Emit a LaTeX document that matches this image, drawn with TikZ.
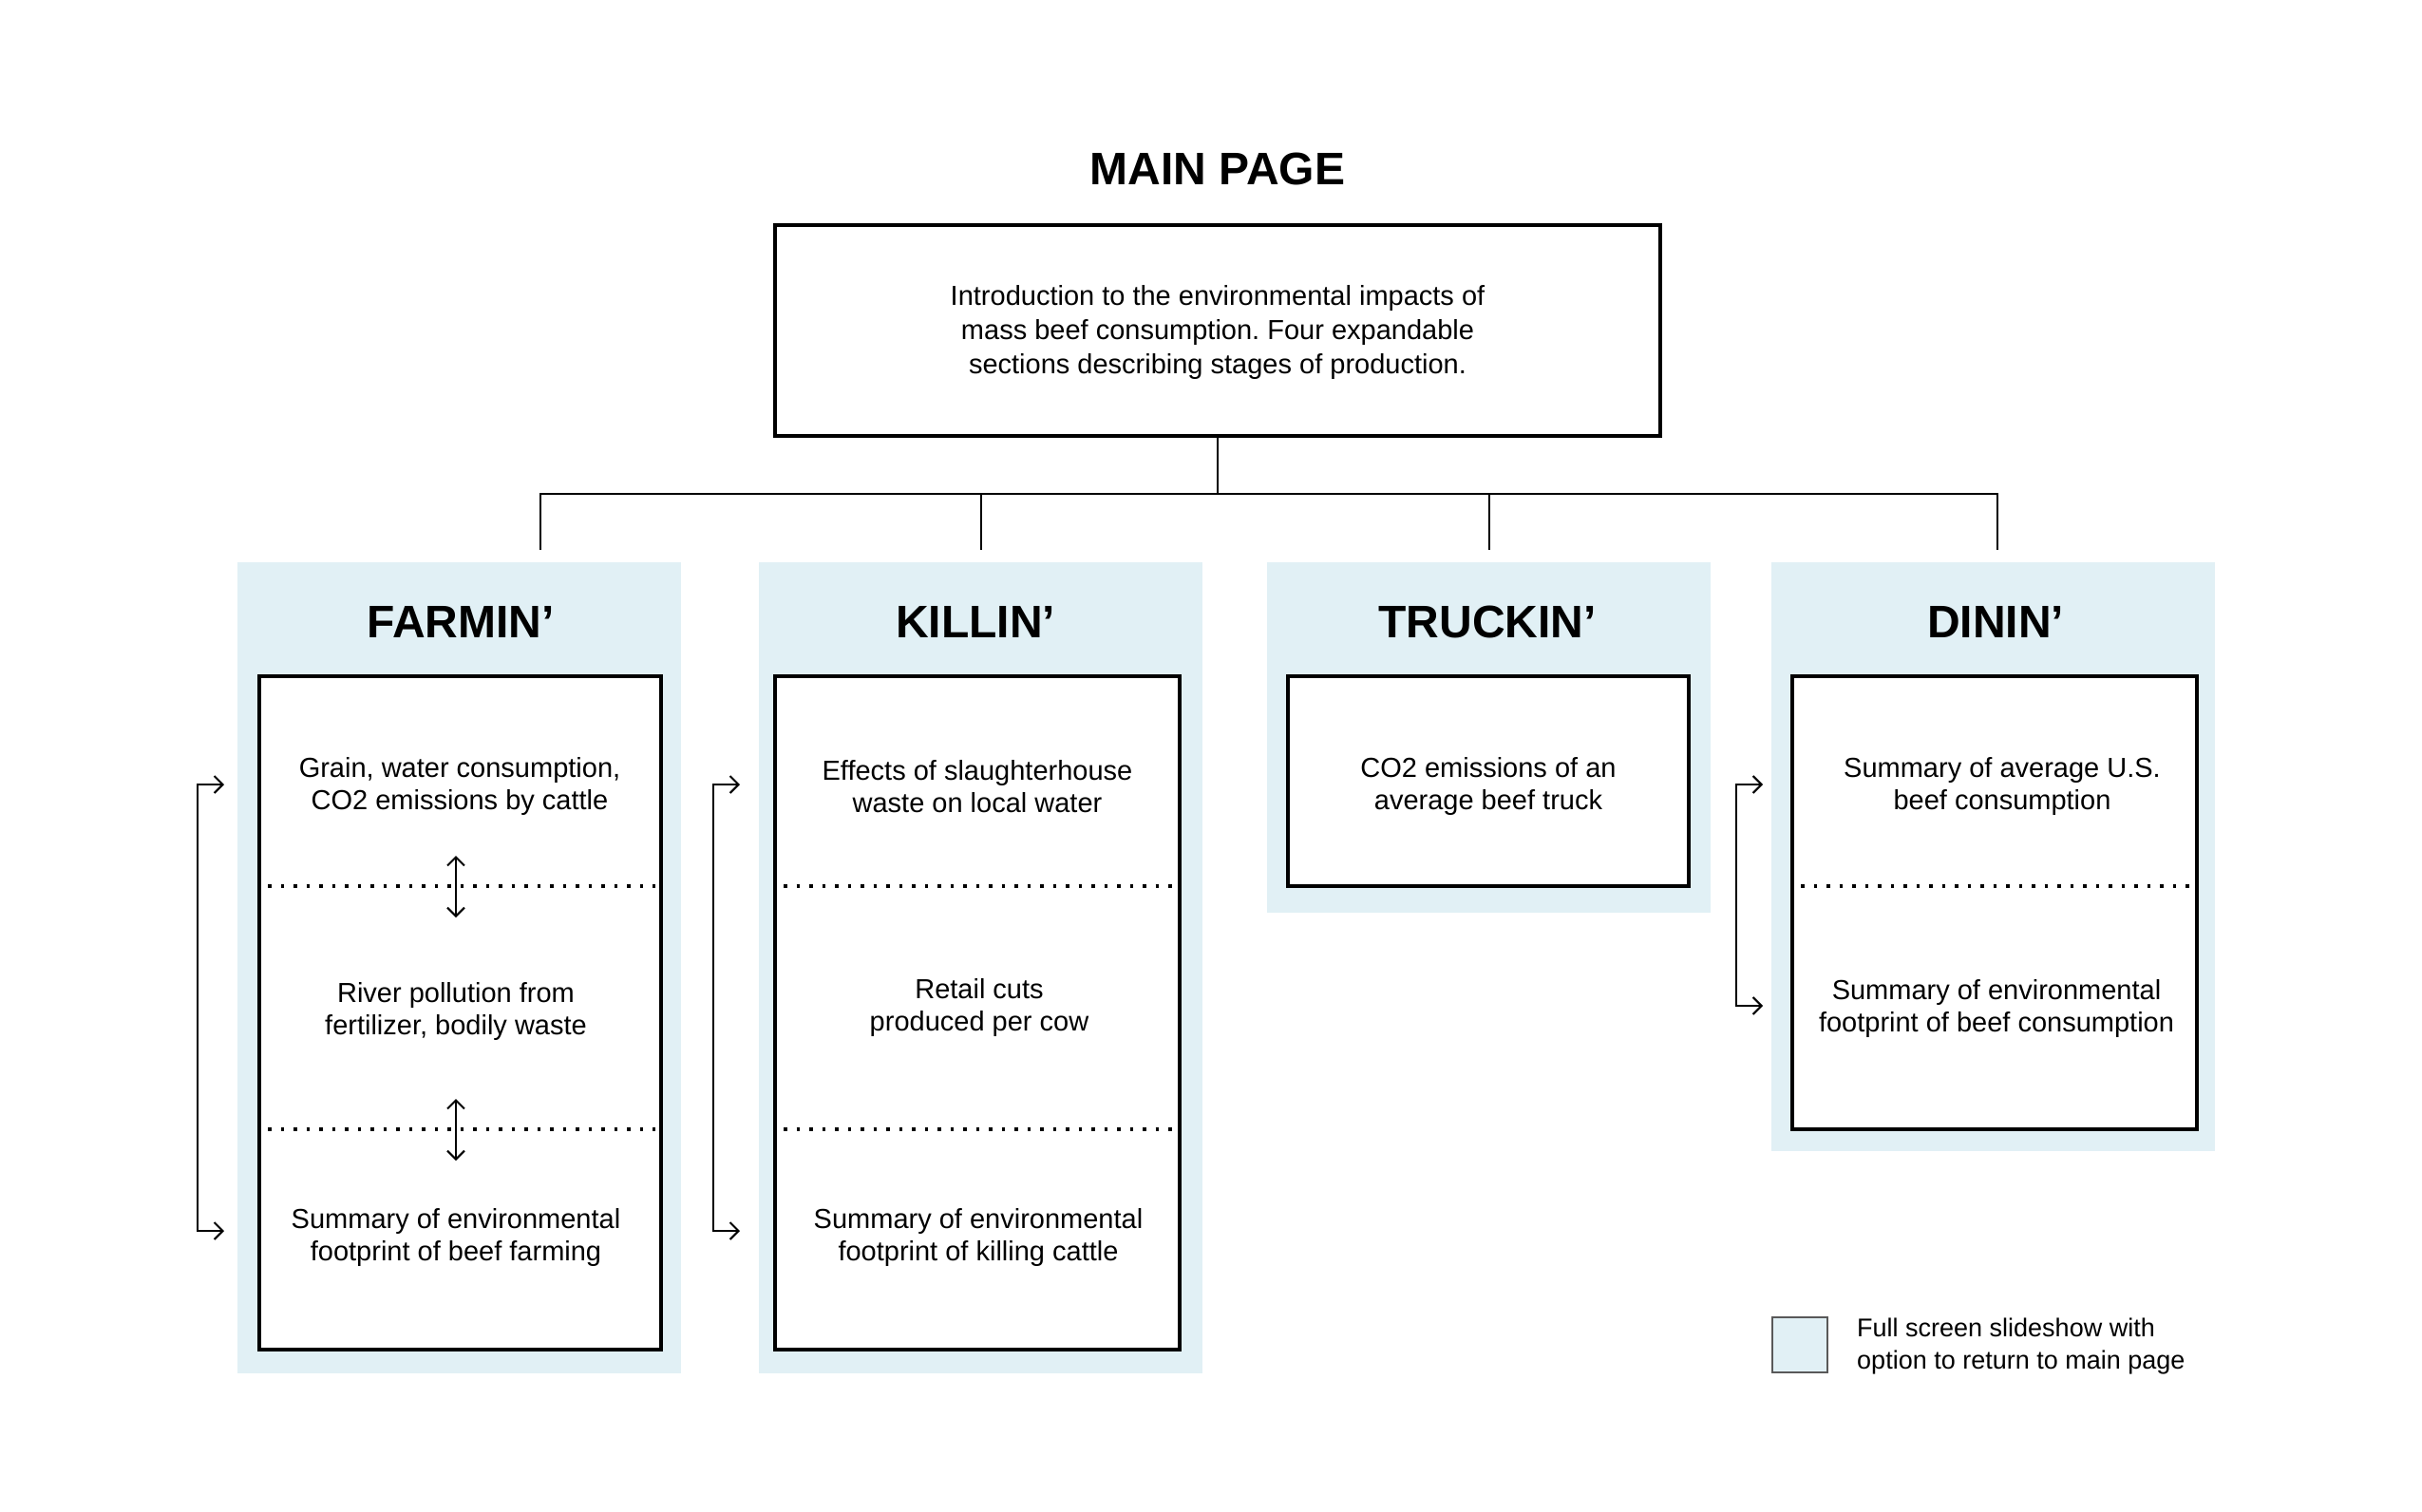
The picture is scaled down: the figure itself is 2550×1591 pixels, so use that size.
\documentclass[tikz,border=0pt]{standalone}
\usepackage{fontspec}
\setmainfont{Liberation Sans}
\usetikzlibrary{arrows.meta}
\definecolor{slideblue}{RGB}{225,240,245}
\frenchspacing
\begin{document}
\begin{tikzpicture}[x=1pt, y=-1pt,
  panel/.style={fill=slideblue, inner sep=0pt, outer sep=0pt, anchor=north west, minimum width=467pt},
  pagebox/.style={draw, fill=white, line width=4pt, inner sep=0pt, outer sep=0pt, anchor=north west},
  ttl/.style={font=\bfseries\fontsize{48}{56}\selectfont, inner sep=0pt},
  txt/.style={align=center, inner sep=0pt, font=\fontsize{29}{33.5}\selectfont},
  divider/.style={line width=3.5pt, dash pattern=on 3.5pt off 10pt},
  link/.style={line width=2pt},
  jump/.style={link, <->},
  >={Straight Barb[length=9pt,width=18pt]}]
    \useasboundingbox (0,0) rectangle (2550,1591);

    % main page
    \node[ttl] (mainttl) at (1282,178) {MAIN PAGE};
    \node[pagebox, minimum width=932pt, minimum height=222pt] (intro) at (816,237) {};
    \node[txt, font=\fontsize{29}{36}\selectfont] (introtxt) at ([yshift=-2pt]intro.center)
      {Introduction to the environmental impacts of\\ mass beef consumption. Four expandable\\ sections describing stages of production.};

    % sections
    \node[panel, minimum height=854pt] (farmP) at (250,592) {};
    \node[panel, minimum height=854pt] (killP) at (799,592) {};
    \node[panel, minimum height=369pt] (truckP) at (1334,592) {};
    \node[panel, minimum height=620pt] (dineP) at (1865,592) {};

    \node[ttl] (farmT) at (485,655) {FARMIN’};
    \node[ttl] (killT) at (1027,655) {KILLIN’};
    \node[ttl] (truckT) at (1566,655) {TRUCKIN’};
    \node[ttl] (dineT) at (2101,655) {DININ’};

    \node[pagebox, minimum width=423pt, minimum height=709pt] (farmB) at (273,712) {};
    \node[pagebox, minimum width=426pt, minimum height=709pt] (killB) at (816,712) {};
    \node[pagebox, minimum width=422pt, minimum height=221pt] (truckB) at (1356,712) {};
    \node[pagebox, minimum width=426pt, minimum height=477pt] (dineB) at (1887,712) {};

    \draw[divider] (282,933) -- (690,933);
    \draw[divider] (282,1189) -- (690,1189);
    \draw[divider] (825,933) -- (1236,933);
    \draw[divider] (825,1189) -- (1236,1189);
    \draw[divider] (1896,933) -- (2307,933);

    \node[txt] (farm1) at (484,828) {Grain, water consumption,\\ CO2 emissions by cattle};
    \node[txt] (farm2) at (480,1065) {River pollution from\\ fertilizer, bodily waste};
    \node[txt] (farm3) at (480,1303) {Summary of environmental\\ footprint of beef farming};
    \node[txt] (kill1) at (1029,828) {Effects of slaughterhouse\\ waste on local water};
    \node[txt] (kill2) at (1031,1061) {Retail cuts\\ produced per cow};
    \node[txt] (kill3) at (1030,1303) {Summary of environmental\\ footprint of killing cattle};
    \node[txt] (truck1) at (1567,828) {CO2 emissions of an\\ average beef truck};
    \node[txt] (dine1) at (2108,828) {Summary of average U.S.\\ beef consumption};
    \node[txt] (dine2) at (2102,1062) {Summary of environmental\\ footprint of beef consumption};

    % tree
    \coordinate (bus) at (intro.south |- 0,520);
    \draw[link] (intro.south) -- (bus);
    \draw[link] (bus) -| ([shift={(85.5pt,13pt)}]farmP.north);
    \draw[link] (bus) -| ([yshift=13pt]killP.north);
    \draw[link] (bus) -| ([yshift=13pt]truckP.north);
    \draw[link] (bus) -| ([shift={(4.5pt,13pt)}]dineP.north);

    % slide order
    \draw[jump] (480,901) -- (480,966);
    \draw[jump] (480,1157) -- (480,1222);
    \coordinate (farmA) at (236,826);
    \coordinate (farmZ) at (236,1296);
    \coordinate (killA) at (779,826);
    \coordinate (killZ) at (779,1296);
    \coordinate (dineA) at (1856,826);
    \coordinate (dineZ) at (1856,1059);
    \draw[jump] (farmA) -- ++(-28,0) |- (farmZ);
    \draw[jump] (killA) -- ++(-28,0) |- (killZ);
    \draw[jump] (dineA) -- ++(-28,0) |- (dineZ);

    % legend
    \node[draw=black!65, line width=1.5pt, fill=slideblue, minimum size=58pt, inner sep=0pt, anchor=north west] (key) at (1865,1386) {};
    \node[anchor=west, align=left, inner sep=0pt, font=\fontsize{27}{34}\selectfont] (keytxt) at (1955,1417)
      {Full screen slideshow with\\ option to return to main page};
\end{tikzpicture}
\end{document}
